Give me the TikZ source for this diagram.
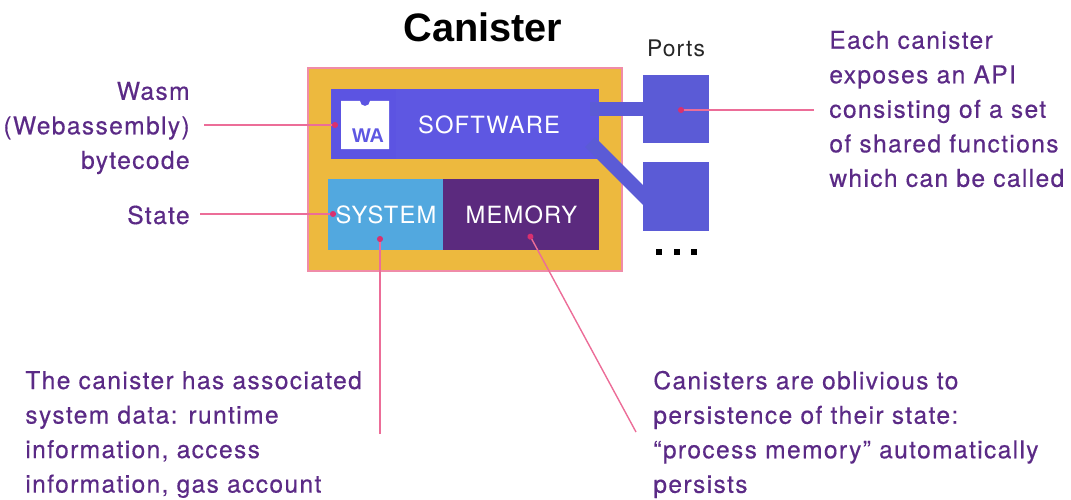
\documentclass[tikz,border=0pt]{standalone}
\usepackage{fontspec}
\setmainfont{TeX Gyre Heros}[LetterSpace=5.5,FakeBold=0.4]
\newfontfamily\blockfont{TeX Gyre Heros}[LetterSpace=5]
\newfontfamily\titlefont{Liberation Sans}
\usetikzlibrary{arrows.meta}
\definecolor{canisterfill}{HTML}{EDB93E}
\definecolor{softblue}{HTML}{5E57E2}
\definecolor{wabg}{HTML}{5C54E2}
\definecolor{portblue}{HTML}{5B5BD6}
\definecolor{sysblue}{HTML}{52A8DF}
\definecolor{mempurple}{HTML}{5B2A7E}
\definecolor{textpurple}{HTML}{5B2A86}
\definecolor{linepink}{HTML}{EC6D98}
\definecolor{boxpink}{HTML}{F08CA8}
\definecolor{dotpink}{HTML}{D9306F}
\tikzset{
    block/.style={inner sep=0pt, text=white, font=\blockfont\fontsize{13.5}{16}\selectfont},
    portbox/.style={fill=portblue, draw=none, inner sep=0pt, minimum width=1.32cm},
    note/.style={inner sep=0pt, text=textpurple, font=\fontsize{14}{19.65}\selectfont},
    band/.style={draw=portblue, line width=0.28cm},
    leader/.style={draw=linepink, line width=0.8pt, -{Circle[length=3.4pt,color=dotpink]}},
    squaredot/.style={fill=black, inner sep=0pt, minimum size=0.11cm}
}
\begin{document}
\begin{tikzpicture}[x=0.02cm,y=-0.02cm]
    \useasboundingbox (0,0) rectangle (1071,500);

    \node (title) at (483,27) {\titlefont\fontsize{22.6}{26}\selectfont\bfseries Canister};
    \node[block, fill=canisterfill, draw=boxpink, line width=0.8pt, minimum width=6.28cm, minimum height=4.06cm] (canister) at (465,169.5) {};

    % software block with the wasm icon
    \node[block, fill=softblue, minimum width=5.36cm, minimum height=1.40cm] (software) at (465,124) {};
    \node[block, fill=wabg, minimum width=1.30cm, minimum height=1.40cm] (wabox) at (364,124) {};
    \node[block] (softlabel) at (489,125) {SOFTWARE};
    \fill[white] (341,101) -- (360,101) arc[start angle=180, end angle=0, radius=5] -- (389,101) -- (389,149) -- (341,149) -- cycle;
    \node[inner sep=0pt, text=softblue] (walabel) at (368,135.5) {\titlefont\fontsize{11.3}{13}\selectfont\bfseries WA};

    % system and memory
    \node[block, fill=sysblue, minimum width=2.30cm, minimum height=1.42cm] (system) at (385.5,214.5) {};
    \node[block] (syslabel) at (386,215) {SYSTEM};
    \node[block, fill=mempurple, minimum width=3.12cm, minimum height=1.42cm] (memory) at (521,214.5) {};
    \node[block] (memlabel) at (521.5,215) {MEMORY};

    % ports
    \coordinate (bandone) at (590,109);
    \coordinate (bandtwo) at (590,142);
    \coordinate (bandtwoend) at (650,202);
    \draw[band] (bandone) -- (650,109);
    \draw[band] (bandtwo) -- (bandtwoend);
    \node[portbox, minimum height=1.36cm] (portone) at (676,109) {};
    \node[portbox, minimum height=1.38cm] (porttwo) at (676,196.5) {};
    \node[inner sep=0pt, text=black!85, font=\blockfont\fontsize{13}{15}\selectfont] (ports) at (676,48.5) {Ports};
    \node[squaredot] (dotone) at (659,252) {};
    \node[squaredot] (dottwo) at (677,252) {};
    \node[squaredot] (dotthree) at (694,252) {};

    % notes
    \node[note, anchor=east, align=right] (wasmnote) at (190,128) {Wasm\\(Webassembly)\\bytecode};
    \node[note, anchor=east] (statenote) at (190,215) {State};
    \node[note, anchor=west, align=left] (apinote) at (829,109) {Each canister\\exposes an API\\consisting of a set\\of shared functions\\which can be called};
    \node[note, anchor=west, align=left] (sysnote) at (25,434.5) {The canister has associated\\system data: runtime\\information, access\\information, gas account};
    \node[note, anchor=west, align=left] (memnote) at (653,434.5) {Canisters are oblivious to\\persistence of their state:\\“process memory” automatically\\persists};

    % leaders
    \coordinate (wasmfrom) at (204,125);
    \coordinate (wasmdot) at (338,125);
    \coordinate (statefrom) at (200,214);
    \coordinate (statedot) at (336,214);
    \coordinate (apifrom) at (814,110);
    \coordinate (apidot) at (678,110);
    \coordinate (sysfrom) at (380,434);
    \coordinate (sysdot) at (380,236);
    \coordinate (memfrom) at (636,432);
    \coordinate (memdot) at (529,234);
    \draw[leader] (wasmfrom) -- (wasmdot);
    \draw[leader] (statefrom) -- (statedot);
    \draw[leader] (apifrom) -- (apidot);
    \draw[leader] (sysfrom) -- (sysdot);
    \draw[leader] (memfrom) -- (memdot);
\end{tikzpicture}
\end{document}
